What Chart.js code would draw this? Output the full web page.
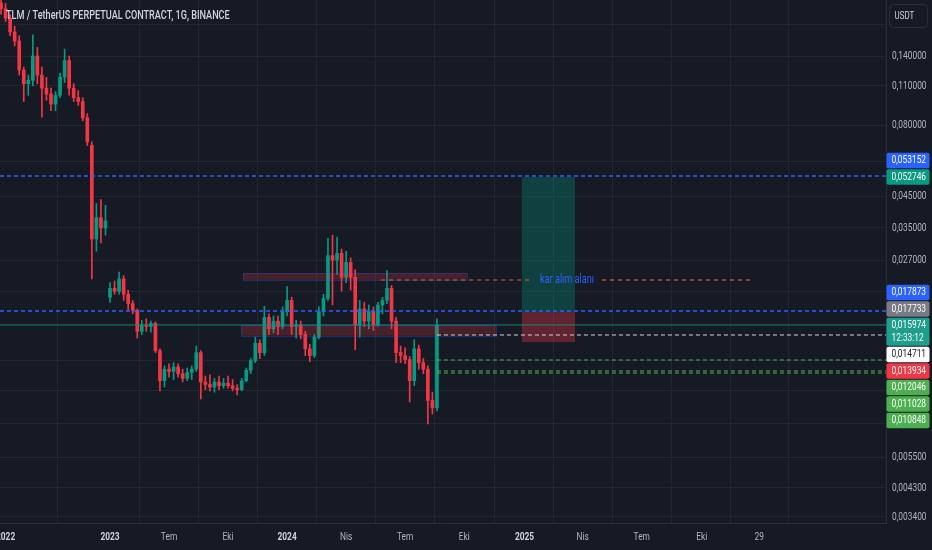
<!DOCTYPE html>
<html lang="tr">
<head>
  <meta charset="UTF-8" />
  <title>TLM / TetherUS PERPETUAL CONTRACT, 1G, BINANCE</title>
  <style>
    * { margin: 0; padding: 0; box-sizing: border-box; }
    html, body { width: 932px; height: 550px; background: #161a25; overflow: hidden; }
    canvas { display: block; }
  </style>
</head>
<body>
  <canvas id="chart" width="932" height="550"></canvas>

  <script src="https://cdn.jsdelivr.net/npm/chart.js"></script>
  <script>
    // one candle per week, x = bar number; the contract's 2022-2023 gap is skipped like on the source chart
    const firstBar = -1;
    const opens = [
      0.215, 0.205, 0.19, 0.17, 0.158, 0.125, 0.112, 0.115, 0.14, 0.12, 0.108, 0.103,
      0.095, 0.102, 0.118, 0.135, 0.108, 0.1, 0.097, 0.085, 0.068, 0.032, 0.038, 0.035,
      0.020, 0.0215, 0.021, 0.0232, 0.0205, 0.019, 0.018, 0.0152, 0.016, 0.0158, 0.0162, 0.013,
      0.0102, 0.0112, 0.011, 0.0114, 0.0108, 0.0104, 0.0109, 0.0112, 0.0128, 0.0101, 0.0099, 0.0097,
      0.0101, 0.0098, 0.01, 0.0098, 0.0096, 0.0095, 0.0102, 0.0111, 0.012, 0.0138, 0.0128, 0.017,
      0.0155, 0.0165, 0.0158, 0.0178, 0.0195, 0.0158, 0.016, 0.0148, 0.0132, 0.0125, 0.0145, 0.0178,
      0.0198, 0.028, 0.027, 0.0285, 0.0235, 0.0265, 0.0235, 0.016, 0.0182, 0.0165, 0.0178, 0.016,
      0.0188, 0.0195, 0.0215, 0.0165, 0.0128, 0.0125, 0.0121, 0.0102, 0.0132, 0.0118, 0.0112, 0.0087,
      0.0082
    ];
    const highs = [
      0.225, 0.214, 0.195, 0.178, 0.165, 0.128, 0.12, 0.166, 0.15, 0.128, 0.118, 0.108,
      0.105, 0.122, 0.148, 0.14, 0.112, 0.106, 0.1, 0.088, 0.07, 0.0426, 0.044, 0.042,
      0.0225, 0.0228, 0.0245, 0.0238, 0.0212, 0.0195, 0.0182, 0.0166, 0.0168, 0.0165, 0.0164, 0.0132,
      0.0115, 0.0117, 0.0118, 0.0117, 0.0112, 0.0113, 0.0115, 0.0135, 0.013, 0.0106, 0.0107, 0.0104,
      0.0106, 0.0104, 0.0106, 0.0103, 0.0099, 0.0104, 0.0113, 0.0122, 0.0145, 0.0142, 0.0186, 0.0175,
      0.0172, 0.0172, 0.0185, 0.0218, 0.02, 0.0166, 0.0165, 0.0152, 0.0137, 0.0148, 0.0185, 0.0205,
      0.0322, 0.033, 0.0325, 0.0295, 0.029, 0.0275, 0.025, 0.0195, 0.0192, 0.0188, 0.0185, 0.0192,
      0.02, 0.0248, 0.022, 0.017, 0.0135, 0.0133, 0.0124, 0.0142, 0.0136, 0.0122, 0.0115, 0.0093,
      0.0168
    ];
    const lows = [
      0.196, 0.185, 0.165, 0.152, 0.12, 0.097, 0.102, 0.11, 0.112, 0.0855, 0.098, 0.09,
      0.09, 0.1, 0.113, 0.102, 0.097, 0.094, 0.083, 0.068, 0.0232, 0.029, 0.031, 0.033,
      0.0192, 0.0205, 0.0205, 0.0195, 0.018, 0.0175, 0.0144, 0.0148, 0.0152, 0.0151, 0.0128, 0.0094,
      0.0097, 0.0105, 0.0103, 0.0105, 0.0101, 0.0102, 0.0103, 0.011, 0.0088, 0.0095, 0.0094, 0.0093,
      0.0095, 0.0096, 0.0096, 0.0094, 0.0091, 0.0094, 0.0101, 0.0108, 0.0118, 0.0122, 0.0125, 0.0148,
      0.015, 0.0148, 0.0155, 0.0172, 0.0148, 0.0144, 0.0143, 0.0125, 0.0119, 0.0123, 0.0143, 0.0172,
      0.0195, 0.0188, 0.024, 0.021, 0.0225, 0.0212, 0.0131, 0.0145, 0.0158, 0.0155, 0.0153, 0.0158,
      0.0175, 0.019, 0.0155, 0.0118, 0.0118, 0.0117, 0.0086, 0.0098, 0.0112, 0.0108, 0.0072, 0.0078,
      0.008
    ];
    const closes = [
      0.205, 0.19, 0.17, 0.158, 0.125, 0.112, 0.115, 0.14, 0.12, 0.108, 0.103, 0.095,
      0.102, 0.118, 0.135, 0.108, 0.1, 0.097, 0.085, 0.07, 0.032, 0.038, 0.035, 0.037,
      0.0215, 0.021, 0.0232, 0.0205, 0.019, 0.018, 0.0152, 0.016, 0.0158, 0.0162, 0.013, 0.0102,
      0.0112, 0.011, 0.0114, 0.0108, 0.0104, 0.0109, 0.0112, 0.0128, 0.0101, 0.0099, 0.0097, 0.0101,
      0.0098, 0.01, 0.0098, 0.0096, 0.0095, 0.0102, 0.0111, 0.012, 0.0138, 0.0128, 0.017, 0.0155,
      0.0165, 0.0158, 0.0178, 0.0195, 0.0158, 0.016, 0.0148, 0.0132, 0.0125, 0.0145, 0.0178, 0.0198,
      0.028, 0.027, 0.0285, 0.0235, 0.0265, 0.0235, 0.016, 0.0182, 0.0165, 0.0178, 0.016, 0.0188,
      0.0195, 0.0215, 0.0165, 0.0128, 0.0125, 0.0121, 0.0102, 0.0132, 0.0118, 0.0112, 0.0087, 0.0082,
      0.015974
    ];

    // time axis labels (bar number where each one sits)
    const xTickPos = [0, 23, 36, 49, 62, 75, 88, 101, 114.3, 127.1, 140.1, 153.3, 166];
    const xTickLabels = ['2022', '2023', 'Tem', 'Eki', '2024', 'Nis', 'Tem', 'Eki', '2025', 'Nis', 'Tem', 'Eki', '29'];
    const yTicks = [0.0034, 0.0043, 0.0055, 0.0072, 0.0094, 0.012, 0.016, 0.021, 0.027, 0.035, 0.045, 0.06, 0.08, 0.11, 0.14, 0.18];

    // drawn zones (bar from / bar to / price top / price bottom)
    const zoneStart = [52.3, 51.9];
    const zoneEnd = [101.6, 108];
    const zoneHigh = [0.0243, 0.01598];
    const zoneLow = [0.0230, 0.01467];

    // long position tool
    const posStart = 113.7, posEnd = 125.4;
    const posTarget = 0.052746, posEntry = 0.017733, posStop = 0.013934;

    // horizontal levels (null = chart edge)
    const levelValues = [0.053152, 0.017873, 0.0229, 0.014711, 0.012046, 0.011028, 0.010848];
    const levelFrom = [null, null, 82.7, 95, 95, 95, 95];
    const levelTo = [null, null, 164.6, null, null, null, null];
    const levelKinds = ['blue', 'blue', 'orange', 'white', 'green', 'green', 'green'];
    const levelText = 'kar alım alanı';

    const lastPrice = 0.015974;
    const countdown = '12:33:12';

    // price scale badges
    const badgeValues = [0.053152, 0.052746, 0.017873, 0.017733, 0.015974, 0.014711, 0.013934, 0.012046, 0.011028, 0.010848];
    const badgeKinds = ['blue', 'target', 'blue', 'entry', 'last', 'white', 'stop', 'green', 'green', 'green'];

    const title = 'TLM / TetherUS PERPETUAL CONTRACT, 1G, BINANCE';

    const FONT = "Roboto, 'Noto Sans', sans-serif";
    const SX = 0.76; // the source uses a narrow face; squeeze text horizontally
    const BG = '#161a25';
    const GRID = '#222633';
    const AXIS_LINE = '#2a2e39';
    const UP = '#089981';
    const DOWN = '#f23645';
    const TEXT = '#b2b5be';

    const lineStyles = {
      blue: { color: '#2962ff', dash: [4, 3], width: 1.5 },
      orange: { color: '#e8623f', dash: [4, 4], width: 1.2 },
      white: { color: '#d1d4dc', dash: [4, 3], width: 1.2 },
      green: { color: '#4caf50', dash: [4, 3], width: 1.2 }
    };
    const badgeStyles = {
      blue: { bg: '#2962ff', fg: '#ffffff' },
      target: { bg: '#089981', fg: '#ffffff' },
      entry: { bg: '#787b86', fg: '#ffffff' },
      last: { bg: '#1e9e8c', fg: '#ffffff' },
      white: { bg: '#ffffff', fg: '#131722' },
      stop: { bg: '#f23645', fg: '#ffffff' },
      green: { bg: '#4caf50', fg: '#ffffff' }
    };
    const usdtBox = { x: 889.5, y: 4.5, w: 38, h: 23 };

    const fmt = (v) => v.toFixed(6).replace('.', ',');
    const isYear = (s) => /^\d{4}$/.test(s || '');

    function squeezeText(c, text, x, y, align) {
      const w = c.measureText(text).width * SX;
      const x0 = align === 'center' ? x - w / 2 : align === 'right' ? x - w : x;
      c.save();
      c.translate(x0, y);
      c.scale(SX, 1);
      c.textAlign = 'left';
      c.fillText(text, 0, 0);
      c.restore();
      return w;
    }

    // badges overlapping each other get stacked away from the pinned ones (target and last price)
    function layoutBadges(yScale) {
      const H = 16.5;
      const items = badgeValues.map((v, i) => ({
        i, v, kind: badgeKinds[i],
        nat: yScale.getPixelForValue(v),
        pinned: badgeKinds[i] === 'target' || badgeKinds[i] === 'last'
      }));
      const pins = items.filter(b => b.pinned);
      pins.forEach(p => {
        if (p.kind === 'last') { p.top = p.nat - 8; p.bottom = p.top + 29; }
        else { p.top = p.nat - H / 2; p.bottom = p.nat + H / 2; }
      });
      items.filter(b => !b.pinned).forEach(b => {
        b.anchor = pins.reduce((a, p) => Math.abs(p.nat - b.nat) < Math.abs(a.nat - b.nat) ? p : a);
      });
      pins.forEach(p => {
        const above = items.filter(b => b.anchor === p && b.nat <= p.nat).sort((a, b) => b.nat - a.nat);
        let edge = p.top;
        above.forEach(b => {
          const c = Math.min(b.nat, edge - H / 2);
          b.top = c - H / 2; b.bottom = c + H / 2; edge = b.top;
        });
        const below = items.filter(b => b.anchor === p && b.nat > p.nat).sort((a, b) => a.nat - b.nat);
        edge = p.bottom;
        below.forEach(b => {
          const c = Math.max(b.nat, edge + H / 2);
          b.top = c - H / 2; b.bottom = c + H / 2; edge = b.bottom;
        });
      });
      return items;
    }

    function hline(c, yScale, x0, x1, value, style) {
      const py = Math.round(yScale.getPixelForValue(value));
      c.strokeStyle = style.color;
      c.setLineDash(style.dash);
      c.lineWidth = style.width;
      c.beginPath(); c.moveTo(x0, py); c.lineTo(x1, py); c.stroke();
    }

    const drawings = {
      id: 'drawings',
      beforeDraw(chart) {
        const c = chart.ctx;
        c.save();
        c.fillStyle = BG;
        c.fillRect(0, 0, chart.width, chart.height);
        c.restore();
      },
      afterDatasetsDraw(chart) {
        const { ctx: c, chartArea: a } = chart;
        const x = chart.scales.x, y = chart.scales.y;
        const px = (v) => x.getPixelForValue(v);
        c.save();
        c.beginPath(); c.rect(a.left, a.top, a.right - a.left, a.bottom - a.top); c.clip();

        // zones
        for (let k = 0; k < zoneStart.length; k++) {
          const x0 = px(zoneStart[k]), x1 = px(zoneEnd[k]);
          const y0 = y.getPixelForValue(zoneHigh[k]), y1 = y.getPixelForValue(zoneLow[k]);
          c.fillStyle = 'rgba(242, 54, 69, 0.22)';
          c.fillRect(x0, y0, x1 - x0, y1 - y0);
          c.strokeStyle = 'rgba(41, 98, 255, 0.3)';
          c.lineWidth = 1;
          c.strokeRect(Math.round(x0) + 0.5, Math.round(y0) + 0.5, Math.round(x1 - x0), Math.round(y1 - y0));
        }

        // position box
        const px0 = px(posStart), px1 = px(posEnd);
        const pyT = y.getPixelForValue(posTarget), pyE = y.getPixelForValue(posEntry), pyS = y.getPixelForValue(posStop);
        c.fillStyle = 'rgba(8, 153, 129, 0.3)';
        c.fillRect(px0, pyT, px1 - px0, pyE - pyT);
        c.fillStyle = 'rgba(242, 54, 69, 0.35)';
        c.fillRect(px0, pyE, px1 - px0, pyS - pyE);

        // last price line
        const lp = Math.round(y.getPixelForValue(lastPrice));
        c.strokeStyle = 'rgba(8, 153, 129, 0.8)';
        c.setLineDash([]);
        c.lineWidth = 1.2;
        c.beginPath(); c.moveTo(a.left, lp); c.lineTo(a.right, lp); c.stroke();

        // levels
        c.font = `12px ${FONT}`;
        for (let k = 0; k < levelValues.length; k++) {
          const st = lineStyles[levelKinds[k]];
          const x0 = levelFrom[k] === null ? a.left : px(levelFrom[k]);
          const x1 = levelTo[k] === null ? a.right : px(levelTo[k]);
          if (levelKinds[k] === 'orange') {
            const mx = (x0 + x1) / 2;
            const half = c.measureText(levelText).width * SX / 2 + 8;
            hline(c, y, x0, mx - half, levelValues[k], st);
            hline(c, y, mx + half, x1, levelValues[k], st);
            c.setLineDash([]);
            c.fillStyle = '#2962ff';
            c.textBaseline = 'middle';
            squeezeText(c, levelText, mx, y.getPixelForValue(levelValues[k]), 'center');
          } else {
            hline(c, y, x0, x1, levelValues[k], st);
          }
        }
        c.restore();
      },
      afterDraw(chart) {
        const c = chart.ctx;
        const a = chart.chartArea;
        const x = chart.scales.x, y = chart.scales.y;
        const badges = layoutBadges(y);
        c.save();
        c.textBaseline = 'middle';

        // time axis labels
        x.ticks.forEach((t, k) => {
          const label = xTickLabels[k];
          const year = isYear(label);
          c.font = `${year ? 'bold ' : ''}11px ${FONT}`;
          c.fillStyle = year ? '#d1d4dc' : TEXT;
          squeezeText(c, label, x.getPixelForValue(t.value), a.bottom + 14, 'center');
        });

        // price axis labels, skipped where a badge or the currency button covers them
        c.font = `11px ${FONT}`;
        c.fillStyle = TEXT;
        y.ticks.forEach(t => {
          const py = y.getPixelForValue(t.value);
          if (py < 4 || py > a.bottom - 3) return;
          if (py - 5 < usdtBox.y + usdtBox.h) return;
          if (badges.some(b => py + 5 > b.top && py - 5 < b.bottom)) return;
          squeezeText(c, fmt(t.value), a.right + 6, py, 'left');
        });

        // price badges
        const left = a.right + 0.5;
        badges.forEach(b => {
          const st = badgeStyles[b.kind];
          c.fillStyle = st.bg;
          c.beginPath();
          c.roundRect(left, b.top + 0.5, 43, b.bottom - b.top - 1, 2);
          c.fill();
          c.fillStyle = st.fg;
          c.font = `11px ${FONT}`;
          if (b.kind === 'last') {
            squeezeText(c, fmt(b.v), left + 5, b.top + 8, 'left');
            squeezeText(c, countdown, left + 5, b.top + 21, 'left');
          } else {
            squeezeText(c, fmt(b.v), left + 5, (b.top + b.bottom) / 2, 'left');
          }
        });

        // currency button
        c.fillStyle = BG;
        c.strokeStyle = AXIS_LINE;
        c.lineWidth = 1;
        c.beginPath();
        c.roundRect(usdtBox.x, usdtBox.y, usdtBox.w, usdtBox.h, 4);
        c.fill(); c.stroke();
        c.fillStyle = '#d1d4dc';
        c.font = `10.5px ${FONT}`;
        squeezeText(c, 'USDT', usdtBox.x + 5, usdtBox.y + usdtBox.h / 2, 'left');

        // title
        c.font = `500 12px ${FONT}`;
        c.fillStyle = '#d1d4dc';
        c.textBaseline = 'alphabetic';
        squeezeText(c, title, 6, 19, 'left');
        c.restore();
      }
    };

    const bodies = opens.map((o, k) => ({ x: firstBar + k, y: [o, closes[k]] }));
    const wicks = lows.map((l, k) => ({ x: firstBar + k, y: [l, highs[k]] }));
    const candleColor = (ctx) => closes[ctx.dataIndex] >= opens[ctx.dataIndex] ? UP : DOWN;

    new Chart(document.getElementById('chart'), {
      type: 'bar',
      data: {
        datasets: [
          { label: 'body', data: bodies, backgroundColor: candleColor, barThickness: 3, grouped: false, borderWidth: 0 },
          { label: 'wick', data: wicks, backgroundColor: candleColor, barThickness: 1, grouped: false, borderWidth: 0 }
        ]
      },
      options: {
        responsive: false,
        maintainAspectRatio: false,
        animation: false,
        layout: { padding: 0 },
        plugins: { legend: { display: false }, tooltip: { enabled: false } },
        scales: {
          x: {
            type: 'linear',
            min: -1.23,
            max: 193.9,
            offset: false,
            grid: { color: GRID, drawTicks: false },
            border: { color: AXIS_LINE },
            ticks: { display: false },
            afterBuildTicks: (s) => { s.ticks = xTickPos.map(v => ({ value: v })); },
            afterFit: (s) => { s.height = 27; s.paddingLeft = 0; s.paddingRight = 0; }
          },
          y: {
            type: 'logarithmic',
            position: 'right',
            min: 0.003239,
            max: 0.21993,
            grid: { color: GRID, drawTicks: false },
            border: { color: AXIS_LINE },
            ticks: { display: false },
            afterBuildTicks: (s) => { s.ticks = yTicks.map(v => ({ value: v })); },
            afterFit: (s) => { s.width = 46; s.paddingTop = 0; s.paddingBottom = 0; }
          }
        }
      },
      plugins: [drawings]
    });
  </script>
</body>
</html>
